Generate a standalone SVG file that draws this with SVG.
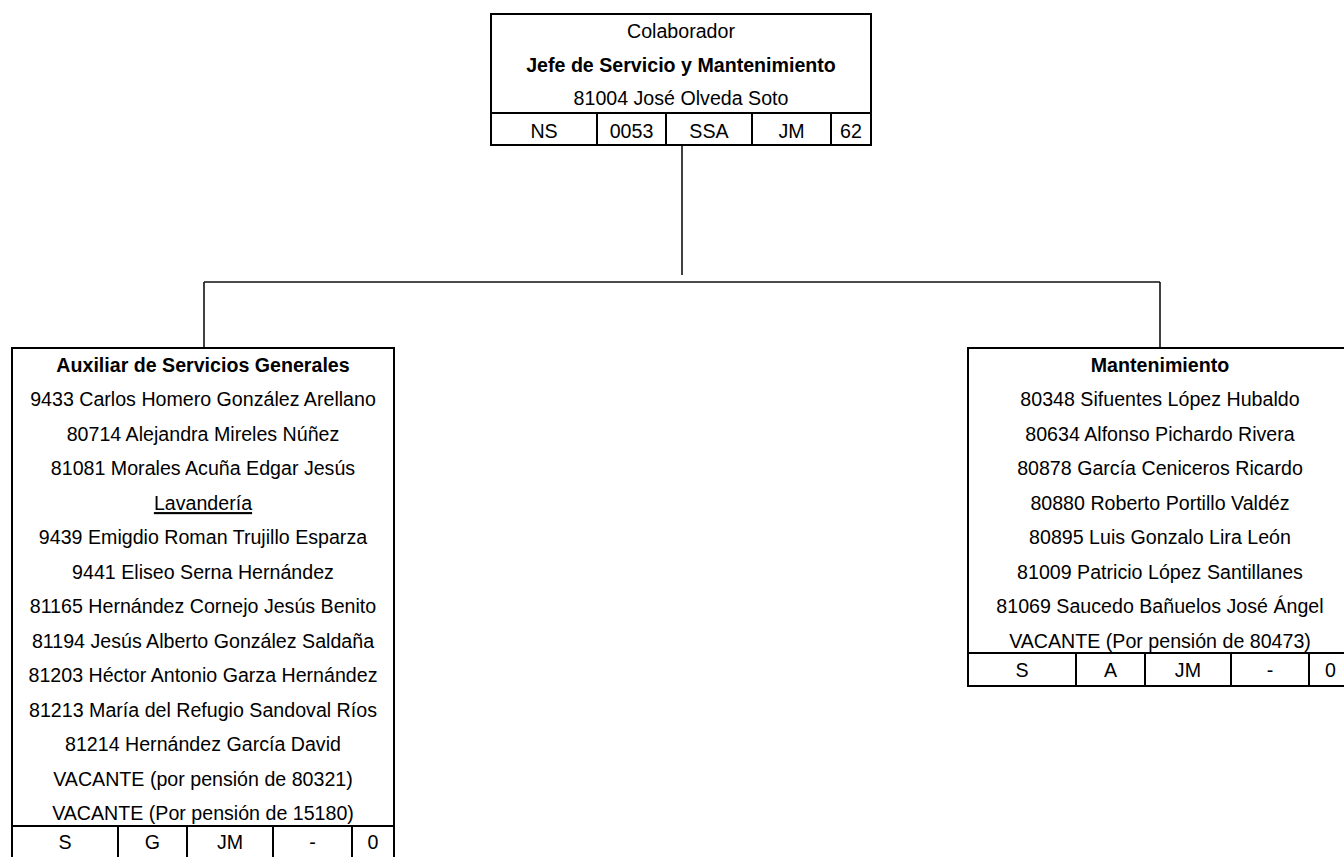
<svg xmlns="http://www.w3.org/2000/svg" width="1344" height="857" viewBox="0 0 1344 857">
<style>
.box{fill:#fff;stroke:#000;stroke-width:2}
.ln{stroke:#000;stroke-width:2;fill:none}
.con{stroke:#111;stroke-width:1.6;fill:none}
text{font-family:"Liberation Sans",Arial,sans-serif;font-size:21px;fill:#000;text-anchor:middle}
.b{font-weight:bold}
.u{text-decoration:underline}
</style>
<rect width="1344" height="857" fill="#fff"/>
<g id="connectors">
<line class="con" x1="682" y1="145" x2="682" y2="275"/>
<line class="con" x1="204" y1="282" x2="1160" y2="282"/>
<line class="con" x1="204" y1="282" x2="204" y2="348"/>
<line class="con" x1="1160" y1="282" x2="1160" y2="348"/>
</g>
<g id="jefe">
<rect class="box" x="491" y="14" width="380" height="131"/>
<line class="ln" x1="491" y1="113" x2="871" y2="113"/>
<line class="ln" x1="597" y1="113" x2="597" y2="145"/>
<line class="ln" x1="666" y1="113" x2="666" y2="145"/>
<line class="ln" x1="752" y1="113" x2="752" y2="145"/>
<line class="ln" x1="831" y1="113" x2="831" y2="145"/>
<g transform="matrix(0.935,0,0,1,44.265,0)">
<text x="681" y="38">Colaborador</text>
<text class="b" x="681" y="72">Jefe de Servicio y Mantenimiento</text>
<text x="681" y="105">81004 José Olveda Soto</text>
<text x="534.5" y="138">NS</text>
<text x="628.1" y="138">0053</text>
<text x="710.9" y="138">SSA</text>
<text x="799.2" y="138">JM</text>
<text x="862.8" y="138">62</text>
</g>
</g>
<g id="auxiliar">
<rect class="box" x="12" y="348" width="382" height="512"/>
<line class="ln" x1="12" y1="826" x2="394" y2="826"/>
<line class="ln" x1="118" y1="826" x2="118" y2="860"/>
<line class="ln" x1="187" y1="826" x2="187" y2="860"/>
<line class="ln" x1="273" y1="826" x2="273" y2="860"/>
<line class="ln" x1="352" y1="826" x2="352" y2="860"/>
<g transform="matrix(0.935,0,0,1,13.195,0)">
<text class="b" x="203" y="372">Auxiliar de Servicios Generales</text>
<text x="203" y="406.5">9433 Carlos Homero González Arellano</text>
<text x="203" y="441">80714 Alejandra Mireles Núñez</text>
<text x="203" y="475.5">81081 Morales Acuña Edgar Jesús</text>
<text class="u" x="203" y="510">Lavandería</text>
<text x="203" y="544.5">9439 Emigdio Roman Trujillo Esparza</text>
<text x="203" y="579">9441 Eliseo Serna Hernández</text>
<text x="203" y="613.5">81165 Hernández Cornejo Jesús Benito</text>
<text x="203" y="648">81194 Jesús Alberto González Saldaña</text>
<text x="203" y="682.5">81203 Héctor Antonio Garza Hernández</text>
<text x="203" y="717">81213 María del Refugio Sandoval Ríos</text>
<text x="203" y="751.5">81214 Hernández García David</text>
<text x="203" y="786">VACANTE (por pensión de 80321)</text>
<text x="203" y="820.5">VACANTE (Por pensión de 15180)</text>
<text x="55.4" y="849">S</text>
<text x="149" y="849">G</text>
<text x="231.9" y="849">JM</text>
<text x="320.1" y="849">-</text>
<text x="384.8" y="849">0</text>
</g>
</g>
<g id="mantenimiento">
<rect class="box" x="968" y="348" width="384" height="338"/>
<line class="ln" x1="968" y1="653" x2="1352" y2="653"/>
<line class="ln" x1="1076" y1="653" x2="1076" y2="686"/>
<line class="ln" x1="1145" y1="653" x2="1145" y2="686"/>
<line class="ln" x1="1231" y1="653" x2="1231" y2="686"/>
<line class="ln" x1="1309" y1="653" x2="1309" y2="686"/>
<g transform="matrix(0.935,0,0,1,75.4,0)">
<text class="b" x="1160" y="372">Mantenimiento</text>
<text x="1160" y="406.5">80348 Sifuentes López Hubaldo</text>
<text x="1160" y="441">80634 Alfonso Pichardo Rivera</text>
<text x="1160" y="475.5">80878 García Ceniceros Ricardo</text>
<text x="1160" y="510">80880 Roberto Portillo Valdéz</text>
<text x="1160" y="544.5">80895 Luis Gonzalo Lira León</text>
<text x="1160" y="579">81009 Patricio López Santillanes</text>
<text x="1160" y="613.5">81069 Saucedo Bañuelos José Ángel</text>
<text x="1160" y="648">VACANTE (Por pensión de 80473)</text>
<text x="1012.4" y="677">S</text>
<text x="1107.1" y="677">A</text>
<text x="1189.9" y="677">JM</text>
<text x="1277.6" y="677">-</text>
<text x="1342.4" y="677">0</text>
</g>
</g>
</svg>
